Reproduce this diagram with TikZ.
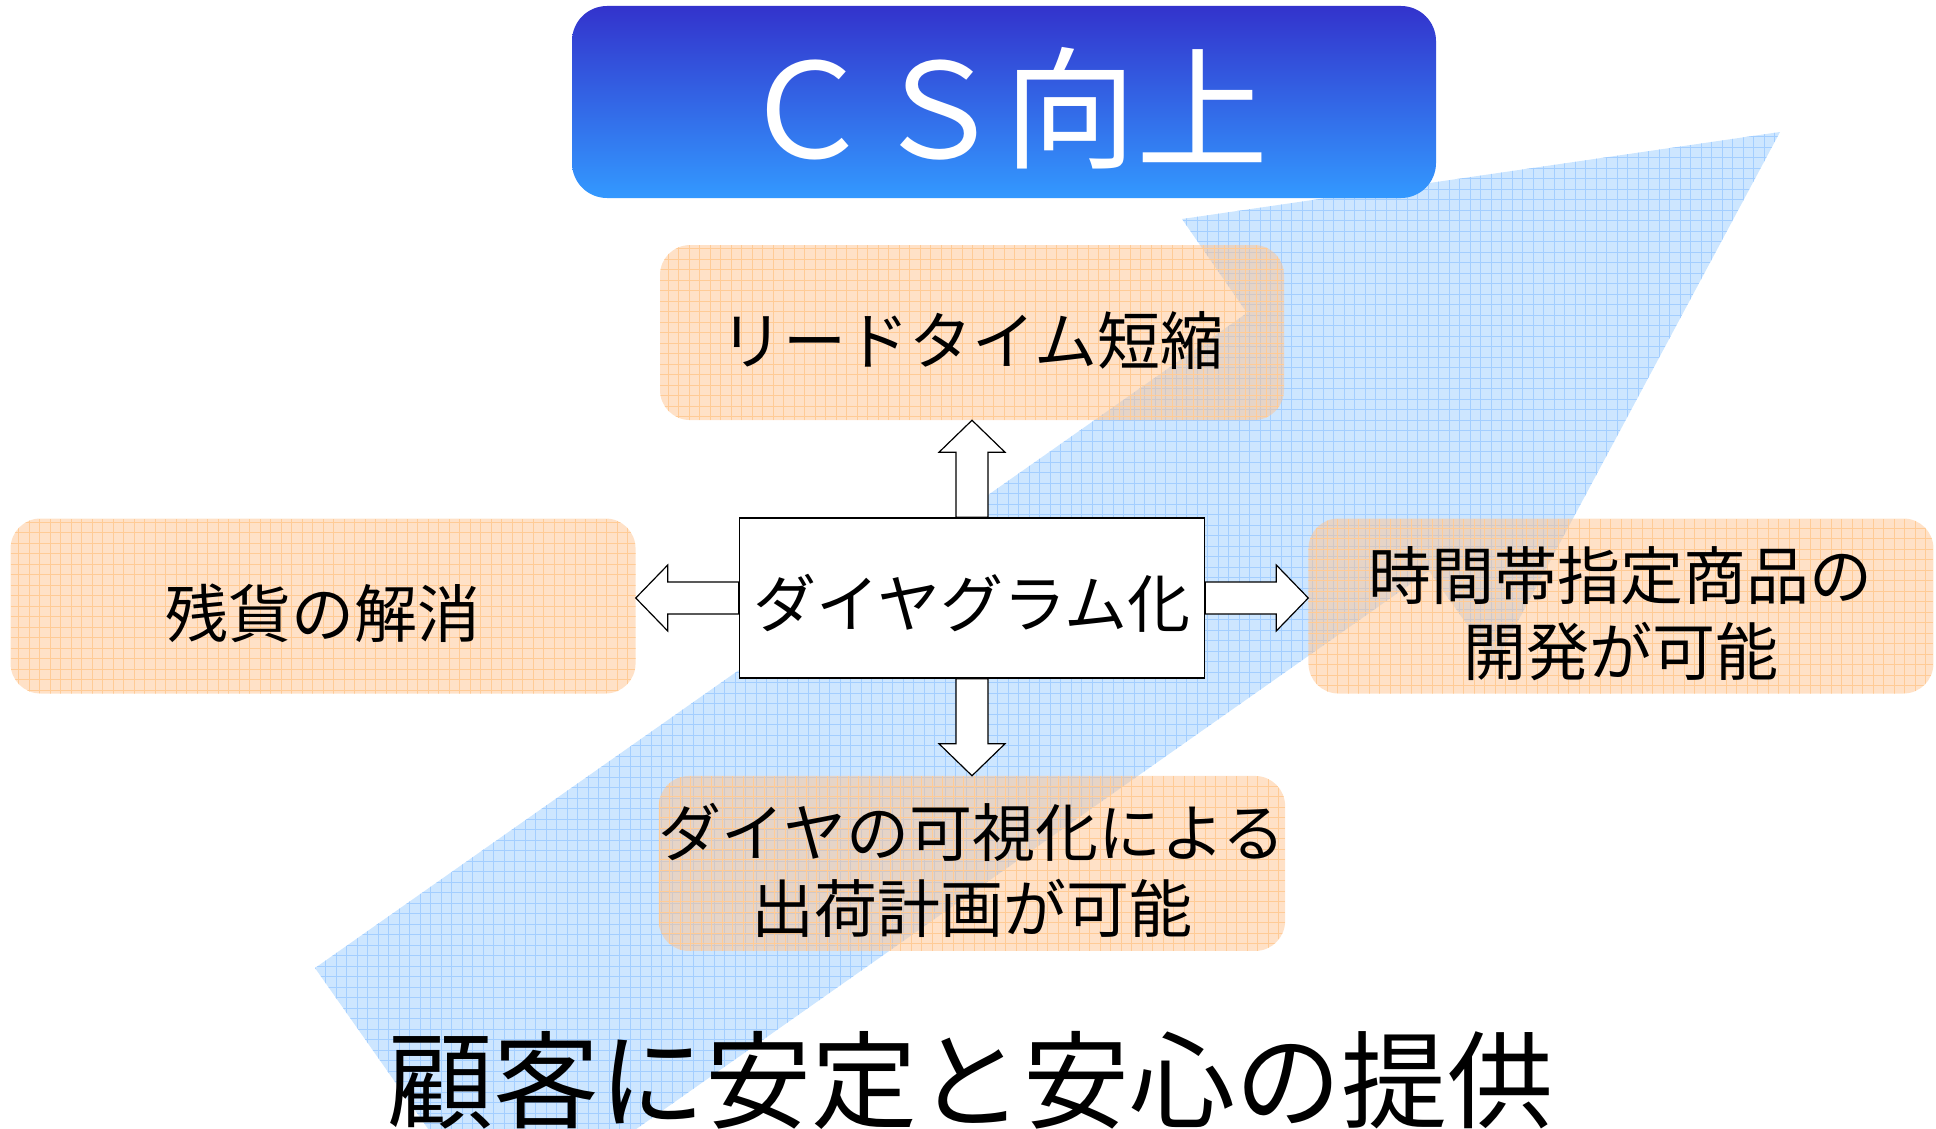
\documentclass[tikz,border=0pt]{standalone}
\usepackage{fontspec}
\newfontfamily\jpfont{Noto Sans CJK JP}
\usepackage{tikz}
\usetikzlibrary{positioning, calc}
\usepackage{xcolor}

\definecolor{titletop}{HTML}{3333CC}
\definecolor{titlebot}{HTML}{3399FF}
\definecolor{arrowfill}{HTML}{CDE6FF}
\definecolor{arrowgrid}{HTML}{A3CEFF}
\definecolor{boxfill}{HTML}{FFC490}
\definecolor{boxgrid}{HTML}{FFCB96}

\begin{document}
\begin{tikzpicture}[
  x=1pt, y=-1pt,
  node distance=97pt and 103pt,
  every node/.style={font=\jpfont},
  titlebox/.style={rounded corners=35pt, top color=titletop, bottom color=titlebot,
    minimum width=864pt, minimum height=192pt, text=white,
    font=\jpfont\fontsize{132}{132}\selectfont,
    execute at begin node={\rule{0pt}{124pt}}},
  resultbox/.style={rounded corners=30pt, fill=boxfill, fill opacity=0.5, text opacity=1,
    minimum width=624pt, minimum height=175pt, align=center, inner sep=0pt,
    font=\jpfont\fontsize{63}{76}\selectfont,
    execute at begin node={\rule{0pt}{#1}},
    path picture={\draw[boxgrid, line width=0.7pt, step=10.5pt]
      (path picture bounding box.south west) grid (path picture bounding box.north east);}},
  resultbox/.default=68pt,
  centrebox/.style={draw, line width=1.5pt, fill=white, minimum width=465pt, minimum height=160pt,
    font=\jpfont\fontsize{63}{63}\selectfont,
    execute at begin node={\rule{0pt}{64pt}}},
  blockarrow/.style={draw, fill=white, line width=1.2pt,
    to path={($(\tikztotarget)!32pt!(\tikztostart)$) coordinate (hb)
      ($(\tikztostart)!16pt!90:(\tikztotarget)$)
      -- ($(hb)!16pt!90:(\tikztotarget)$) -- ($(hb)!33pt!90:(\tikztotarget)$)
      -- (\tikztotarget)
      -- ($(hb)!33pt!-90:(\tikztotarget)$) -- ($(hb)!16pt!-90:(\tikztotarget)$)
      -- ($(\tikztostart)!16pt!-90:(\tikztotarget)$) -- cycle}},
  bigarrow/.style={fill=arrowfill,
    path picture={\draw[arrowgrid, line width=0.8pt, step=10.5pt]
      (path picture bounding box.south west) grid (path picture bounding box.north east);}}
]
\useasboundingbox (0,0) rectangle (1936,1129);
\clip (0,0) rectangle (1936,1129);

% Big arrow in the background
\path[bigarrow] (315,968) -- (1247,313) -- (1182,219) -- (1780,132)
  -- (1495,664) -- (1429,571) -- (497,1227) -- cycle;

% Centre and the four results
\node[centrebox] (diag) at (972,598) {ダイヤグラム化};
\node[resultbox] (lead) [above=of diag] {リードタイム短縮};
\node[resultbox=144pt] (plan) [below=of diag] {ダイヤの可視化による\\出荷計画が可能};
\node[resultbox, minimum width=625pt] (stock) [left=of diag, yshift=-8pt] {残貨の解消};
\node[resultbox=144pt, minimum width=625pt] (slot) [right=of diag, yshift=-8pt] {時間帯指定商品の\\開発が可能};

% Block arrows out of the centre
\draw[blockarrow] (diag.north) to (lead.south);
\draw[blockarrow] (diag.south) to (plan.north);
\draw[blockarrow] (diag.west) to (diag.west -| stock.east);
\draw[blockarrow] (diag.east) to (diag.east -| slot.west);

% Title and bottom line
\node[titlebox] (cs) at (1004,102) {ＣＳ向上};
\node[font=\jpfont\fontsize{106}{106}\selectfont] (motto) at (970,1080) {顧客に安定と安心の提供};

\end{tikzpicture}
\end{document}
